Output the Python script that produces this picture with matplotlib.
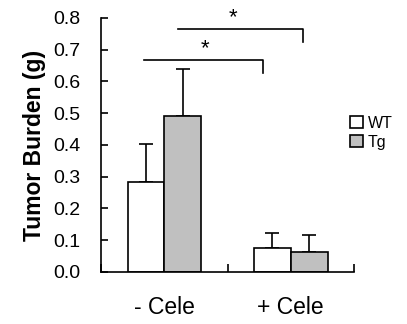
import matplotlib
matplotlib.use("Agg")
import matplotlib.pyplot as plt
import numpy as np

plt.rcParams['font.family'] = ['Liberation Sans', 'DejaVu Sans']

groups = ["- Cele", "+ Cele"]
series = ["WT", "Tg"]
wt_mean = [0.283, 0.076]
wt_err = [0.120, 0.047]
tg_mean = [0.490, 0.063]
tg_err = [0.148, 0.054]
y_ticks = [0.0, 0.1, 0.2, 0.3, 0.4, 0.5, 0.6, 0.7, 0.8]

fig = plt.figure(figsize=(4.07, 3.24), dpi=100)
ax = fig.add_axes([0.248, 0.1605, 0.622, 0.784])

x = np.array([0.5, 1.5])
w = 0.29
ax.bar(x - w / 2, wt_mean, w, color='white', edgecolor='black', linewidth=1.2, label=series[0], zorder=2)
ax.bar(x + w / 2, tg_mean, w, color='#c0c0c0', edgecolor='black', linewidth=1.2, label=series[1], zorder=2)

# one-sided error bars
ax.errorbar(x - w / 2, wt_mean, yerr=[np.zeros(2), wt_err], fmt='none', ecolor='black',
            elinewidth=1.2, capsize=5, capthick=1.2, zorder=1)
ax.errorbar(x + w / 2, tg_mean, yerr=[np.zeros(2), tg_err], fmt='none', ecolor='black',
            elinewidth=1.2, capsize=5, capthick=1.2, zorder=1)

# significance brackets
def bracket(x0, x1, y, drop, star_x):
    ax.plot([x0, x1, x1], [y, y, y - drop], color='black', lw=1.2, clip_on=False)
    ax.text(star_x, y + 0.003, '*', ha='center', va='bottom', fontsize=16, clip_on=False)

bracket(0.34, 1.28, 0.668, 0.04, 0.82)
bracket(0.61, 1.60, 0.765, 0.04, 1.04)

ax.set_xlim(0, 2)
ax.set_ylim(0, 0.8)
ax.set_yticks(y_ticks)
ax.set_yticklabels([f"{t:.1f}" for t in y_ticks], fontsize=14)
ax.set_xticks([0, 1, 2])
ax.set_xticklabels([])
ax.tick_params(axis='y', direction='in', length=5, width=1.2, pad=15)
ax.tick_params(axis='x', direction='in', length=6, width=1.2)
for i, g in enumerate(groups):
    ax.text(x[i], -0.113, g, ha='center', va='center', fontsize=16.5, transform=ax.transData)

for s in ['top', 'right']:
    ax.spines[s].set_visible(False)
for s in ['left', 'bottom']:
    ax.spines[s].set_linewidth(1.2)

ax.set_ylabel("Tumor Burden (g)", fontsize=16.5, fontweight='bold', labelpad=5)

ax.legend(loc='upper left', bbox_to_anchor=(0.96, 0.64), frameon=False, fontsize=11.5,
          handlelength=0.8, handleheight=0.8, handletextpad=0.3, labelspacing=0.25,
          borderaxespad=0)

fig.savefig("out.png", dpi=100)
